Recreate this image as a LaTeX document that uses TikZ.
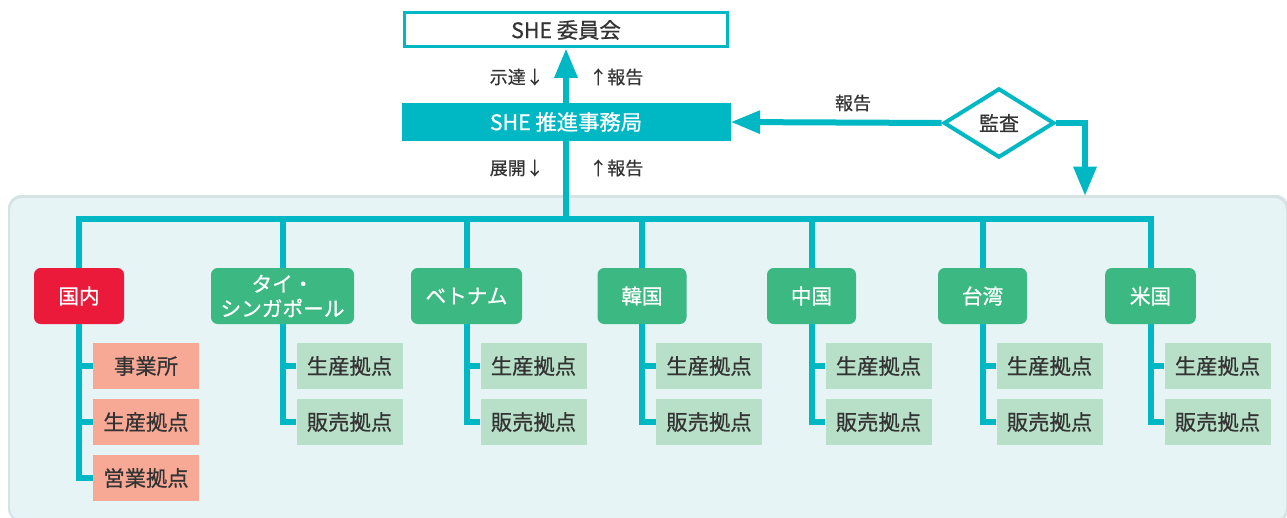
\documentclass[tikz,border=0pt]{standalone}
\usepackage{fontspec}
\setmainfont{Noto Sans CJK JP}[FakeBold=0.7]
\usetikzlibrary{shapes.geometric,arrows.meta}
\definecolor{tealc}{HTML}{00B7C4}
\definecolor{redc}{HTML}{EC1A3A}
\definecolor{greenc}{HTML}{3CB983}
\definecolor{salmonc}{HTML}{F8A996}
\definecolor{lgreenc}{HTML}{B8DFC8}
\definecolor{panelc}{HTML}{E6F4F5}
\definecolor{shadowc}{HTML}{D6E3E5}
\definecolor{textc}{HTML}{333333}
\begin{document}
\begin{tikzpicture}[x=0.75pt,y=-0.75pt,
  conn/.style={draw=tealc,line width=4.5pt},
  arr/.style={conn,-{Triangle[width=16.5pt,length=22pt]}},
  country/.style={fill=#1,rounded corners=5pt,text=white,font=\fontsize{15.5pt}{18.5pt}\selectfont,
     minimum height=42pt,inner sep=0pt,align=center},
  sub/.style={fill=#1,text=textc,font=\fontsize{16pt}{18pt}\selectfont,
     minimum width=79.5pt,minimum height=34.5pt,inner sep=0pt},
  lbl/.style={text=textc,font=\fontsize{13.5pt}{15pt}\selectfont,inner sep=0pt}]
\useasboundingbox (0,0) rectangle (1287,517);
% panel
\fill[shadowc,rounded corners=10pt] (8,195) rectangle (1289,522);
\fill[panelc,rounded corners=9pt] (10,198) rectangle (1286,520);

% top boxes
\node[draw=tealc,line width=2.25pt,fill=white,minimum width=242.25pt,minimum height=25.5pt,
  inner sep=0pt,text=textc,font=\fontsize{16pt}{18pt}\selectfont] (iin) at (566,30) {SHE 委員会};
\node[fill=tealc,minimum width=246.75pt,minimum height=28.5pt,inner sep=0pt,text=white,
  font=\fontsize{16pt}{18pt}\selectfont] (tui) at (566,122) {SHE 推進事務局};

\node[lbl,anchor=east] (l1) at (544,77) {示達↓};
\node[lbl,anchor=west] (l2) at (589,77) {↑報告};
\node[lbl,anchor=east] (l3) at (544,168) {展開↓};
\node[lbl,anchor=west] (l4) at (589,168) {↑報告};

% audit
\node[draw=tealc,line width=3pt,fill=white,shape=diamond,aspect=1.6,minimum width=83pt,
  minimum height=52pt,inner sep=0pt,text=textc,font=\fontsize{15pt}{17pt}\selectfont] (dia) at (999,123) {監査};
\node[lbl] (l5) at (853,103) {報告};
\coordinate (aend) at (1085,196);

\draw[arr] (tui.north) -- (iin.south);
\draw[arr] (dia.west) -- (tui.east);
\draw[arr] (dia.east) -| (aend);

% countries
\node[country=redc,minimum width=67.5pt] (c1) at (79,296) {国内};
\node[country=greenc,minimum width=107.25pt] (c2) at (282.5,296) {タイ・\\シンガポール};
\node[country=greenc,minimum width=83.25pt] (c3) at (466.5,296) {ベトナム};
\node[country=greenc,minimum width=66.75pt] (c4) at (642,296) {韓国};
\node[country=greenc,minimum width=66.75pt] (c5) at (811.5,296) {中国};
\node[country=greenc,minimum width=66.75pt] (c6) at (982.5,296) {台湾};
\node[country=greenc,minimum width=68pt] (c7) at (1150.5,296) {米国};

\coordinate (bus) at (566,219);
\draw[conn] (c1.north) -- (c1.north |- bus) -- (c7.north |- bus) -- (c7.north);
\draw[conn] (tui.south) -- (tui.south |- bus);
\foreach \c in {c2,c3,c4,c5,c6}
  \draw[conn] (\c.north) -- (\c.north |- bus);

% domestic children
\node[sub=salmonc] (d1) at (146,366) {事業所};
\node[sub=salmonc] (d2) at (146,422) {生産拠点};
\node[sub=salmonc] (d3) at (146,478) {営業拠点};
\draw[conn] (c1.south) |- (d3.west);
\draw[conn] (c1.south |- d1.west) -- (d1.west);
\draw[conn] (c1.south |- d2.west) -- (d2.west);

% overseas children
\foreach \c/\x in {c2/349.5,c3/533.5,c4/709,c5/878.5,c6/1049.5,c7/1217.5}{
  \node[sub=lgreenc] (\c p) at (\x,366) {生産拠点};
  \node[sub=lgreenc] (\c s) at (\x,422) {販売拠点};
  \draw[conn] (\c.south) |- (\c s.west);
  \draw[conn] (\c.south |- \c p.west) -- (\c p.west);
}
\end{tikzpicture}
\end{document}
